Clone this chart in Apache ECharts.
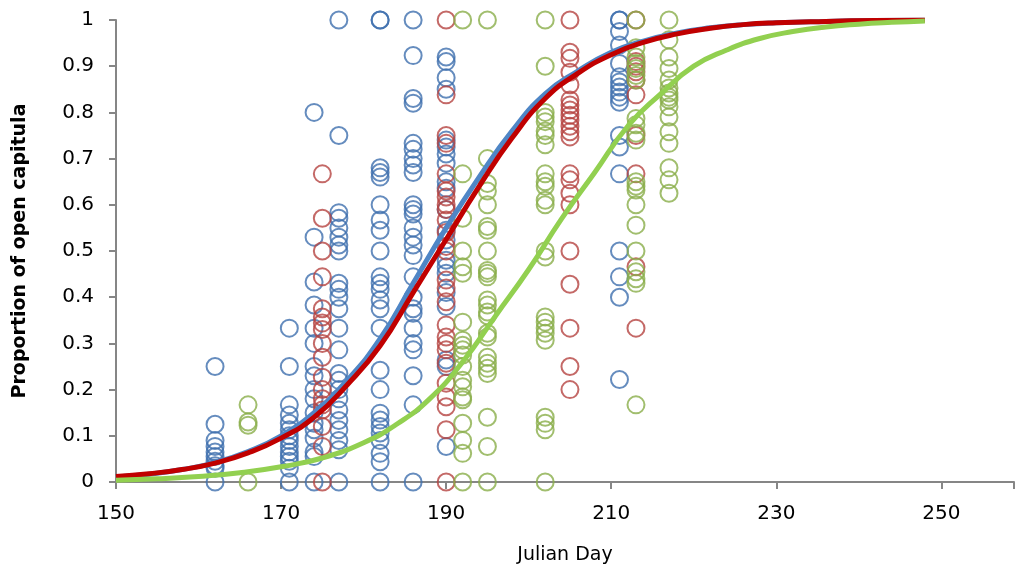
<!DOCTYPE html>
<html>
<head>
<meta charset="utf-8">
<script src="https://cdn.jsdelivr.net/npm/echarts@6/dist/echarts.min.js"></script>
<style>
html,body{margin:0;padding:0;background:#fff;}
#chart{width:1017px;height:573px;}
</style>
</head>
<body>
<div id="chart"></div>
<script>
// Observed proportions, grouped by Julian day (one column of circles per day)
const blueObs = [
  [162, [0.25, 0.125, 0.09, 0.077, 0.065, 0.055, 0.045, 0.035, 0.03, 0]],
  [171, [0.333, 0.25, 0.167, 0.145, 0.127, 0.113, 0.1, 0.09, 0.077, 0.065, 0.055, 0.045, 0.03, 0]],
  [174, [0.8, 0.53, 0.433, 0.383, 0.333, 0.3, 0.25, 0.23, 0.2, 0.18, 0.15, 0.127, 0.113, 0.095, 0.065, 0.055, 0]],
  [177, [1, 0.75, 0.583, 0.571, 0.55, 0.53, 0.513, 0.5, 0.43, 0.417, 0.4, 0.375, 0.333, 0.286, 0.235, 0.22, 0.2, 0.18, 0.156, 0.133, 0.113, 0.09, 0.07, 0]],
  [182, [1, 1, 0.68, 0.67, 0.66, 0.6, 0.567, 0.545, 0.5, 0.444, 0.43, 0.417, 0.394, 0.375, 0.333, 0.242, 0.2, 0.149, 0.134, 0.12, 0.106, 0.09, 0.062, 0.044, 0]],
  [186, [1, 0.923, 0.83, 0.82, 0.733, 0.72, 0.7, 0.686, 0.67, 0.6, 0.59, 0.58, 0.55, 0.53, 0.513, 0.49, 0.444, 0.4, 0.375, 0.365, 0.333, 0.3, 0.286, 0.23, 0.167, 0]],
  [190, [0.92, 0.91, 0.875, 0.85, 0.74, 0.725, 0.71, 0.69, 0.65, 0.636, 0.59, 0.545, 0.524, 0.48, 0.466, 0.452, 0.41, 0.38, 0.264, 0.25, 0.077]],
  [211, [1, 1, 0.975, 0.946, 0.906, 0.877, 0.866, 0.855, 0.844, 0.833, 0.822, 0.75, 0.725, 0.667, 0.5, 0.444, 0.4, 0.222]]
];
const redObs = [
  [175, [0.667, 0.571, 0.5, 0.444, 0.375, 0.357, 0.344, 0.33, 0.3, 0.27, 0.227, 0.2, 0.18, 0.167, 0.156, 0.12, 0.077, 0]],
  [190, [1, 0.838, 0.75, 0.733, 0.667, 0.63, 0.617, 0.6, 0.59, 0.567, 0.54, 0.51, 0.5, 0.437, 0.42, 0.39, 0.34, 0.314, 0.3, 0.286, 0.257, 0.214, 0.184, 0.163, 0.113, 0]],
  [205, [1, 0.93, 0.917, 0.887, 0.86, 0.827, 0.816, 0.805, 0.794, 0.783, 0.77, 0.758, 0.747, 0.667, 0.654, 0.625, 0.6, 0.5, 0.428, 0.333, 0.25, 0.2]],
  [213, [1, 0.91, 0.9, 0.888, 0.87, 0.838, 0.75, 0.667, 0.466, 0.333]]
];
const greenObs = [
  [166, [0.167, 0.13, 0.123, 0]],
  [192, [1, 0.667, 0.571, 0.5, 0.466, 0.452, 0.346, 0.307, 0.296, 0.286, 0.275, 0.25, 0.22, 0.206, 0.184, 0.178, 0.127, 0.09, 0.062, 0]],
  [195, [1, 0.7, 0.646, 0.63, 0.6, 0.553, 0.545, 0.5, 0.458, 0.452, 0.444, 0.394, 0.383, 0.368, 0.36, 0.322, 0.314, 0.27, 0.257, 0.246, 0.235, 0.14, 0.077, 0]],
  [202, [1, 0.9, 0.8, 0.79, 0.78, 0.76, 0.75, 0.73, 0.667, 0.65, 0.64, 0.61, 0.6, 0.5, 0.487, 0.357, 0.346, 0.333, 0.322, 0.307, 0.14, 0.127, 0.113, 0]],
  [213, [1, 0.94, 0.92, 0.906, 0.895, 0.88, 0.87, 0.787, 0.773, 0.755, 0.74, 0.65, 0.64, 0.632, 0.6, 0.556, 0.5, 0.455, 0.44, 0.43, 0.167]],
  [217, [1, 0.957, 0.92, 0.895, 0.87, 0.853, 0.842, 0.833, 0.827, 0.812, 0.79, 0.758, 0.733, 0.68, 0.654, 0.625]]
];

// Fitted curves
const fitDays  = [150, 154, 158, 162, 166, 170, 174, 178, 182, 186, 190, 194, 198, 202, 206, 210, 214, 218, 222, 226, 230, 236, 242, 248];
const blueFit  = [0.011, 0.017, 0.027, 0.042, 0.066, 0.1, 0.15, 0.22, 0.31, 0.43, 0.55, 0.66, 0.76, 0.84, 0.89, 0.93, 0.955, 0.972, 0.983, 0.99, 0.994, 0.997, 0.999, 1.0];
const redFit   = [0.012, 0.018, 0.027, 0.041, 0.063, 0.095, 0.14, 0.21, 0.295, 0.41, 0.525, 0.64, 0.745, 0.83, 0.885, 0.925, 0.952, 0.97, 0.982, 0.99, 0.994, 0.997, 0.999, 1.0];
const greenFitDays = [150, 155, 160, 165, 170, 175, 180, 184, 188, 192, 196, 200, 204, 208, 212, 216, 220, 224, 228, 232, 236, 240, 244, 248];
const greenFit = [0.004, 0.007, 0.012, 0.02, 0.033, 0.052, 0.085, 0.125, 0.18, 0.26, 0.36, 0.46, 0.57, 0.67, 0.77, 0.84, 0.9, 0.935, 0.96, 0.975, 0.985, 0.991, 0.995, 0.998];

const xTicks = [150, 170, 190, 210, 230, 250];

function flatten(cols) {
  const out = [];
  cols.forEach(([d, vals]) => vals.forEach(v => out.push([d, v])));
  return out;
}
function pairs(xs, ys) { return xs.map((x, i) => [x, ys[i]]); }

const FONT = '"DejaVu Sans", "Liberation Sans", sans-serif';

function scatter(name, data, color) {
  return {
    name, type: 'scatter', data: flatten(data), symbol: 'circle', symbolSize: 17,
    itemStyle: { color: 'rgba(0,0,0,0)', borderColor: color, borderWidth: 2 },
    z: 2, animation: false, silent: true
  };
}
function curve(name, data, color, z) {
  return {
    name, type: 'line', data, smooth: true, showSymbol: false, symbol: 'none',
    lineStyle: { color, width: 5 }, z, animation: false, silent: true
  };
}

const chart = echarts.init(document.getElementById('chart'), null, { renderer: 'canvas' });
chart.setOption({
  backgroundColor: '#ffffff',
  animation: false,
  grid: { left: 116, right: 0, top: 20, bottom: 91, containLabel: false },
  xAxis: {
    type: 'value', min: 150, max: 258.8, interval: 20,
    name: 'Julian Day', nameLocation: 'middle', nameGap: 64,
    nameTextStyle: { fontFamily: FONT, fontSize: 19, color: '#000' },
    axisLine: { show: true, lineStyle: { color: '#868686', width: 2 } },
    axisTick: { show: true, inside: false, length: 7, lineStyle: { color: '#868686', width: 2 } },
    axisLabel: {
      fontFamily: FONT, fontSize: 20, color: '#000', margin: 22,
      formatter: v => (xTicks.indexOf(Math.round(v * 1000) / 1000) >= 0 ? String(v) : '')
    },
    splitLine: { show: false }
  },
  yAxis: {
    type: 'value', min: 0, max: 1, interval: 0.1,
    name: 'Proportion of open capitula', nameLocation: 'middle', nameGap: 86,
    nameTextStyle: { fontFamily: FONT, fontSize: 19, fontWeight: 'bold', color: '#000' },
    axisLine: { show: true, lineStyle: { color: '#868686', width: 2 } },
    axisTick: { show: true, inside: false, length: 7, lineStyle: { color: '#868686', width: 2 } },
    axisLabel: {
      fontFamily: FONT, fontSize: 20, color: '#000', margin: 22,
      formatter: v => String(Math.round(v * 10) / 10)
    },
    splitLine: { show: false }
  },
  series: [
    scatter('blue obs', blueObs, '#3F6FAE'),
    scatter('red obs', redObs, '#B54441'),
    scatter('green obs', greenObs, '#8AAE4A'),
    curve('blue fit', pairs(fitDays, blueFit), '#4F86C6', 5),
    curve('red fit', pairs(fitDays, redFit), '#C00000', 6),
    curve('green fit', pairs(greenFitDays, greenFit), '#92D050', 7)
  ]
});
</script>
</body>
</html>
